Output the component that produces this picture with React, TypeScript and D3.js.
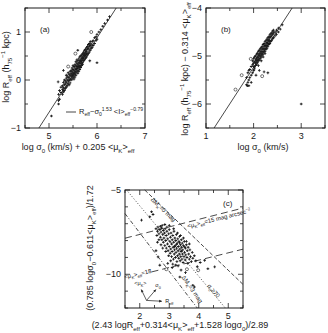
import React, { useEffect, useRef } from "react";
import * as d3 from "d3";

type Pt = [number, number];
const parse = (s: string): Pt[] =>
  s.trim().split(/\s+/).map((p) => p.split(",").map(Number) as Pt);

// (a) log R_eff against log sigma0 + 0.205 <mu>
const galaxiesA = parse(`
5.05,-0.75 5.20,-0.50 5.20,-0.43 5.20,-0.30 5.22,-0.22 5.22,-0.40 5.25,-0.26 5.25,-0.15 5.28,-0.30 5.28,-0.12
5.28,-0.20 5.30,-0.05 5.30,-0.25 5.30,-0.16 5.32,-0.10 5.32,-0.22 5.32,0.00 5.34,-0.02 5.34,-0.18 5.34,-0.08
5.36,0.04 5.36,-0.15 5.36,-0.05 5.36,0.10 5.38,0.00 5.38,-0.12 5.38,0.08 5.40,0.05 5.40,-0.08 5.40,0.15
5.40,-0.02 5.42,0.12 5.42,0.00 5.42,-0.10 5.42,0.06 5.44,0.18 5.44,0.02 5.44,0.10 5.44,-0.06 5.46,0.08
5.46,0.20 5.46,0.00 5.46,0.14 5.48,0.12 5.48,0.25 5.48,0.02 5.48,0.18 5.48,0.08 5.50,0.22 5.50,0.05
5.50,0.15 5.50,0.30 5.50,0.10 5.52,0.20 5.52,0.08 5.52,0.28 5.52,0.14 5.52,0.02 5.54,0.25 5.54,0.12
5.54,0.32 5.54,0.18 5.54,0.06 5.56,0.30 5.56,0.15 5.56,0.22 5.56,0.38 5.56,0.10 5.58,0.28 5.58,0.18
5.58,0.35 5.58,0.24 5.58,0.42 5.60,0.32 5.60,0.20 5.60,0.40 5.60,0.14 5.60,0.27 5.62,0.36 5.62,0.25
5.62,0.44 5.62,0.30 5.62,0.18 5.64,0.40 5.64,0.28 5.64,0.35 5.64,0.48 5.64,0.22 5.66,0.42 5.66,0.30
5.66,0.50 5.66,0.38 5.66,0.26 5.68,0.45 5.68,0.34 5.68,0.52 5.68,0.40 5.68,0.30 5.70,0.48 5.70,0.36
5.70,0.55 5.70,0.44 5.70,0.32 5.72,0.52 5.72,0.40 5.72,0.58 5.72,0.46 5.74,0.55 5.74,0.42 5.74,0.62
5.74,0.50 5.76,0.58 5.76,0.45 5.76,0.64 5.76,0.52 5.78,0.60 5.78,0.48 5.78,0.68 5.78,0.55 5.80,0.64
5.80,0.52 5.80,0.70 5.82,0.66 5.82,0.55 5.82,0.74 5.84,0.70 5.84,0.58 5.84,0.76 5.86,0.72 5.86,0.62
5.86,0.80 5.88,0.75 5.88,0.66 5.90,0.80 5.90,0.68 5.92,0.82 5.92,0.72 5.95,0.88 5.95,0.76 5.98,0.90
5.98,0.82 6.00,0.95 6.00,0.85 6.04,1.00 6.08,1.05 6.12,1.12 6.16,1.18 6.22,1.25 6.26,1.32 6.00,0.36
5.19,-0.04 5.60,0.62 5.85,0.40 5.30,0.20`);
const openA = parse(`5.40,0.28 5.88,1.00 5.55,0.55`);
const fitA: Pt[] = [[4.79, -1], [6.4, 1.5]];
const xTicksA = [5, 6, 7];
const yTicksA = [-1, 0, 1];

// (b) log R_eff - 0.314 <mu> against log sigma0
const galaxiesB = parse(`
1.85,-5.45 1.85,-5.60 1.88,-5.55 1.88,-5.35 1.90,-5.50 1.90,-5.30 1.90,-5.62 1.92,-5.28 1.92,-5.45 1.95,-5.22
1.95,-5.40 1.95,-5.55 1.98,-5.18 1.98,-5.35 1.98,-5.10 2.00,-5.15 2.00,-5.30 2.00,-5.05 2.00,-5.22 2.02,-5.12
2.02,-5.25 2.02,-5.02 2.04,-5.08 2.04,-5.20 2.04,-5.00 2.04,-5.14 2.06,-5.05 2.06,-5.18 2.06,-4.96 2.06,-5.10
2.08,-5.02 2.08,-5.14 2.08,-4.94 2.08,-5.08 2.10,-4.98 2.10,-5.10 2.10,-4.90 2.10,-5.04 2.10,-5.20 2.12,-4.95
2.12,-5.08 2.12,-4.88 2.12,-5.00 2.14,-4.92 2.14,-5.05 2.14,-4.85 2.14,-4.98 2.16,-4.90 2.16,-5.02 2.16,-4.82
2.16,-4.95 2.16,-5.10 2.18,-4.86 2.18,-4.98 2.18,-4.80 2.18,-4.92 2.20,-4.84 2.20,-4.96 2.20,-4.76 2.20,-4.90
2.20,-5.02 2.22,-4.80 2.22,-4.92 2.22,-4.74 2.22,-4.86 2.24,-4.78 2.24,-4.90 2.24,-4.70 2.24,-4.84 2.24,-4.95
2.26,-4.75 2.26,-4.86 2.26,-4.68 2.26,-4.80 2.28,-4.72 2.28,-4.84 2.28,-4.65 2.28,-4.78 2.30,-4.68 2.30,-4.80
2.30,-4.62 2.30,-4.74 2.32,-4.66 2.32,-4.76 2.32,-4.60 2.32,-4.70 2.34,-4.62 2.34,-4.74 2.34,-4.56 2.34,-4.68
2.36,-4.60 2.36,-4.70 2.36,-4.54 2.38,-4.58 2.38,-4.68 2.38,-4.52 2.40,-4.55 2.40,-4.64 2.40,-4.48 2.42,-4.52
2.42,-4.62 2.42,-4.46 2.45,-4.50 2.45,-4.58 2.48,-4.46 2.48,-4.55 2.52,-4.42 2.52,-4.50 2.56,-4.44 2.60,-4.35
3.00,-6.00 2.30,-5.35 2.12,-5.30 2.05,-5.40 2.22,-5.33 2.01,-5.29 1.87,-5.62`);
const openB = parse(`1.62,-5.70 1.75,-5.40 1.94,-5.06 2.18,-5.42`);
const fitB: Pt[] = [[1.17, -6.5], [2.81, -4]];
const xTicksB = [1, 2, 3];
const yTicksB = [-6, -5, -4];

// (c) edge-on view
const galaxiesC = parse(`
2.55,-7.30 2.60,-7.45 2.62,-7.20 2.65,-7.60 2.68,-7.35 2.70,-7.80 2.72,-7.50 2.74,-7.25 2.75,-7.95 2.78,-7.65
2.80,-7.40 2.80,-8.10 2.82,-7.85 2.84,-7.55 2.85,-8.30 2.86,-7.30 2.88,-8.00 2.90,-7.70 2.90,-8.45 2.92,-7.45
2.94,-8.20 2.95,-7.90 2.96,-8.60 2.98,-7.60 3.00,-8.35 3.00,-7.35 3.02,-8.05 3.03,-8.75 3.04,-7.80 3.05,-8.50
3.06,-7.55 3.08,-8.20 3.08,-8.95 3.10,-7.95 3.10,-8.65 3.12,-7.70 3.13,-8.40 3.14,-9.10 3.15,-8.10 3.16,-7.45
3.17,-8.80 3.18,-8.55 3.19,-7.85 3.20,-8.30 3.21,-9.00 3.22,-8.00 3.23,-8.70 3.24,-7.65 3.25,-8.45 3.26,-9.25
3.27,-8.15 3.28,-8.90 3.29,-7.90 3.30,-8.60 3.31,-8.35 3.32,-9.05 3.33,-8.05 3.34,-8.80 3.35,-7.75 3.36,-8.50
3.37,-9.20 3.38,-8.25 3.39,-8.95 3.40,-8.65 3.41,-7.95 3.42,-8.40 3.43,-9.10 3.44,-8.15 3.45,-8.80 3.46,-8.55
3.47,-9.30 3.48,-8.30 3.50,-8.95 3.51,-8.05 3.52,-8.70 3.54,-9.15 3.55,-8.45 3.56,-8.85 3.58,-8.25 3.60,-9.00
3.61,-8.60 3.63,-9.35 3.64,-8.40 3.66,-8.80 3.68,-9.10 3.70,-8.55 3.72,-8.95 3.75,-9.25 3.78,-8.70 3.80,-9.05
3.85,-8.90 3.90,-9.20 2.70,-7.15 2.76,-7.10 2.85,-7.05 2.92,-7.20 3.00,-7.10 2.65,-7.95 2.72,-8.25 2.78,-8.45
2.60,-8.10 2.88,-8.65 2.98,-8.90 3.05,-9.20 3.12,-9.40 3.22,-9.45 3.30,-9.50 2.58,-7.70 3.15,-7.30 3.28,-7.55
3.38,-7.70 3.48,-7.85 3.58,-8.05 3.68,-8.20 3.35,-8.12 3.25,-8.22 3.18,-8.35 3.42,-8.62 3.52,-8.38 2.06,-6.79
2.34,-6.59 2.40,-6.29 2.45,-6.45 2.62,-8.97 2.68,-9.46 2.55,-8.60 4.20,-9.17 4.31,-9.67 4.54,-9.56 3.36,-10.16
3.80,-10.65 3.85,-10.75 4.05,-9.30 3.95,-9.55 3.40,-9.75 3.55,-9.90 2.95,-9.35 3.10,-9.60`);
const openC = parse(`3.98,-9.76 3.60,-9.70 2.90,-9.70`);
const edgeLines: { pts: Pt[]; dash: string }[] = [
  { pts: [[2.17, -5], [5.5, -10.6]], dash: "4,2" },
  { pts: [[1.6, -5.1], [4.9, -12]], dash: "1,2" },
  { pts: [[1.5, -6.4], [3.95, -12]], dash: "4,2,1,2" },
  { pts: [[1.5, -7.86], [5.5, -6.07]], dash: "7,4" },
  { pts: [[2.4, -9.86], [5.5, -8.51]], dash: "7,4" },
];
const xTicksC = [2, 3, 4, 5];
const yTicksC = [-10, -5];

const FONT = "'Liberation Sans', Arial, sans-serif";
const INK = "#1a1a1a";

// text with _{sub} and ^{sup} pieces
function rich(sel: any, str: string, size: number) {
  const re = /([_^])\{([^}]*)\}|([^_^]+)/g;
  let m: RegExpExecArray | null;
  let cur = 0;
  while ((m = re.exec(str))) {
    let target = 0;
    let fs = size;
    let txt = m[3];
    if (m[1]) {
      target = m[1] === "_" ? size * 0.3 : -size * 0.45;
      fs = size * 0.68;
      txt = m[2];
    }
    sel.append("tspan").attr("dy", target - cur).attr("font-size", fs).text(txt);
    cur = target;
  }
}

function drawPanel(svg: any, o: any) {
  const x = d3.scaleLinear().domain(o.xDom).range([o.box[0], o.box[1]]);
  const y = d3.scaleLinear().domain(o.yDom).range([o.box[3], o.box[2]]);
  const g = svg.append("g");

  // lines
  const line = d3.line<Pt>().x((d) => x(d[0])).y((d) => y(d[1]));
  (o.lines || []).forEach((l: any) => {
    g.append("path").attr("d", line(l.pts)).attr("fill", "none")
      .attr("stroke", INK).attr("stroke-width", 0.8)
      .attr("stroke-dasharray", l.dash || null);
  });

  // points
  const cross = d3.symbol().type(d3.symbolCross).size(4);
  g.selectAll(".pt").data(o.pts).enter().append("path")
    .attr("d", cross).attr("fill", INK)
    .attr("transform", (d: Pt) => `translate(${x(d[0])},${y(d[1])})`);
  g.selectAll(".op").data(o.open).enter().append("circle")
    .attr("cx", (d: Pt) => x(d[0])).attr("cy", (d: Pt) => y(d[1]))
    .attr("r", 1.5).attr("fill", "#fff").attr("stroke", INK).attr("stroke-width", 0.6);

  // frame and inward ticks
  g.append("rect").attr("x", o.box[0]).attr("y", o.box[2])
    .attr("width", o.box[1] - o.box[0]).attr("height", o.box[3] - o.box[2])
    .attr("fill", "none").attr("stroke", INK).attr("stroke-width", 1);
  const xs = d3.range(o.xDom[0], o.xDom[1] + 1e-6, o.xStep);
  const ys = d3.range(o.yDom[0], o.yDom[1] + 1e-6, o.yStep);
  const isMaj = (v: number, arr: number[]) => arr.some((a) => Math.abs(a - v) < 1e-6);
  xs.forEach((v) => {
    const L = isMaj(v, o.xTicks) ? 5 : 3;
    g.append("line").attr("x1", x(v)).attr("x2", x(v)).attr("y1", o.box[3]).attr("y2", o.box[3] - L).attr("stroke", INK).attr("stroke-width", 0.8);
    g.append("line").attr("x1", x(v)).attr("x2", x(v)).attr("y1", o.box[2]).attr("y2", o.box[2] + L).attr("stroke", INK).attr("stroke-width", 0.8);
  });
  ys.forEach((v) => {
    const L = isMaj(v, o.yTicks) ? 5 : 3;
    g.append("line").attr("y1", y(v)).attr("y2", y(v)).attr("x1", o.box[0]).attr("x2", o.box[0] + L).attr("stroke", INK).attr("stroke-width", 0.8);
    g.append("line").attr("y1", y(v)).attr("y2", y(v)).attr("x1", o.box[1]).attr("x2", o.box[1] - L).attr("stroke", INK).attr("stroke-width", 0.8);
  });

  const t = g.append("g").attr("font-family", FONT).attr("fill", INK).style("white-space", "pre");
  o.xTicks.forEach((v: number) => {
    t.append("text").attr("x", x(v)).attr("y", o.box[3] + 11).attr("text-anchor", "middle")
      .attr("font-size", 9).text(d3.format("d")(v).replace("-", "−"));
  });
  o.yTicks.forEach((v: number) => {
    t.append("text").attr("x", o.box[0] - 4).attr("y", y(v) + 3).attr("text-anchor", "end")
      .attr("font-size", 9).text(d3.format("d")(v).replace("-", "−"));
  });
  const xl = t.append("text").attr("x", o.xLabPos[0]).attr("y", o.xLabPos[1]).attr("text-anchor", "middle").attr("font-size", 9);
  rich(xl, o.xLab, 9);
  const yl = t.append("text").attr("text-anchor", "middle").attr("font-size", 9)
    .attr("transform", `translate(${o.yLabPos[0]},${o.yLabPos[1]}) rotate(-90)`);
  rich(yl, o.yLab, 9);
  t.append("text").attr("x", o.tag[0]).attr("y", o.tag[1]).attr("font-size", 8).text(o.tag[2]);
  return { g: t, x, y };
}

export default function App() {
  const ref = useRef<SVGSVGElement>(null);
  useEffect(() => {
    const svg = d3.select(ref.current);
    svg.selectAll("*").remove();

    const a = drawPanel(svg, {
      box: [25, 145, 8, 128], xDom: [4.5, 7], yDom: [-1, 1.5], xStep: 0.5, yStep: 0.5,
      xTicks: xTicksA, yTicks: yTicksA, pts: galaxiesA, open: openA, lines: [{ pts: fitA }],
      xLab: "log  σ_{0}  (km/s)  +  0.205  <μ_{K}>_{eff}", xLabPos: [78, 150],
      yLab: "log  R_{eff}  (h_{75}^{−1}  kpc)", yLabPos: [9, 67], tag: [40, 32, "(a)"],
    });
    a.g.append("line").attr("x1", 66).attr("x2", 76).attr("y1", 112).attr("y2", 112)
      .attr("stroke", INK).attr("stroke-width", 0.8);
    const lg = a.g.append("text").attr("x", 79).attr("y", 114).attr("font-size", 7.5);
    rich(lg, "R_{eff}~σ_{0}^{1.53}  <I>_{eff}^{−0.79}", 7.5);

    drawPanel(svg, {
      box: [206, 325, 8, 128], xDom: [1, 3.5], yDom: [-6.5, -4], xStep: 0.5, yStep: 0.5,
      xTicks: xTicksB, yTicks: yTicksB, pts: galaxiesB, open: openB, lines: [{ pts: fitB }],
      xLab: "log  σ_{0}  (km/s)", xLabPos: [263, 150],
      yLab: "log  R_{eff}  (h_{75}^{−1}  kpc)  −  0.314  <μ_{K}>_{eff}", yLabPos: [188, 69],
      tag: [221, 32, "(b)"],
    });

    const c = drawPanel(svg, {
      box: [125, 243, 190, 308], xDom: [1.5, 5.5], yDom: [-12, -5], xStep: 0.5, yStep: 1,
      xTicks: xTicksC, yTicks: yTicksC, pts: galaxiesC, open: openC, lines: edgeLines,
      xLab: "(2.43  logR_{eff}+0.314<μ_{K}>_{eff}+1.528  logσ_{0})/2.89", xLabPos: [180, 328],
      yLab: "(0.785  logσ_{0}−0.611<μ_{K}>_{eff})/1.72", yLabPos: [93, 248],
      tag: [223, 206, "(c)"],
    });
    const note = (px: number, py: number, ang: number, s: string, fs = 6) => {
      const el = c.g.append("text").attr("font-size", fs).attr("text-anchor", "middle")
        .attr("transform", `translate(${c.x(px)},${c.y(py)}) rotate(${ang})`);
      rich(el, s, fs);
    };
    note(2.75, -6.25, 44, "ΔM_{K}=0  mag");
    note(4.7, -6.8, -14, "<μ_{K}>_{eff}=15  mag  arcsec^{−2}");
    note(1.95, -10.1, -13, "<μ_{K}>_{eff}=18");
    note(3.72, -10.95, 55, "ΔM_{K}=3  mag");
    note(4.45, -11.05, 50, "σ_{0}≥70");

    // orientation arrows
    const o: Pt = [2.23, -11.55];
    const ends: { p: Pt; lab: string; lp: Pt }[] = [
      { p: [2.05, -10.9], lab: "<μ_{K}>", lp: [2.02, -10.65] },
      { p: [2.55, -10.9], lab: "σ_{0}", lp: [2.62, -10.75] },
      { p: [2.75, -11.6], lab: "R_{eff}", lp: [3.0, -11.72] },
    ];
    ends.forEach((e) => {
      c.g.append("line").attr("x1", c.x(o[0])).attr("y1", c.y(o[1]))
        .attr("x2", c.x(e.p[0])).attr("y2", c.y(e.p[1])).attr("stroke", INK).attr("stroke-width", 0.7);
      const ang = Math.atan2(c.y(e.p[1]) - c.y(o[1]), c.x(e.p[0]) - c.x(o[0]));
      const hx = c.x(e.p[0]), hy = c.y(e.p[1]);
      const hp = [[hx, hy],
        [hx - 3 * Math.cos(ang - 0.45), hy - 3 * Math.sin(ang - 0.45)],
        [hx - 3 * Math.cos(ang + 0.45), hy - 3 * Math.sin(ang + 0.45)]];
      c.g.append("polygon").attr("points", hp.map((q) => q.join(",")).join(" ")).attr("fill", INK);
      const el = c.g.append("text").attr("font-size", 5.5).attr("text-anchor", "middle")
        .attr("x", c.x(e.lp[0])).attr("y", c.y(e.lp[1]));
      rich(el, e.lab, 5.5);
    });
  }, []);

  return (
    <svg ref={ref} width={328} height={333}
      style={{ position: "absolute", left: 0, top: 0, background: "#fff" }} />
  );
}
